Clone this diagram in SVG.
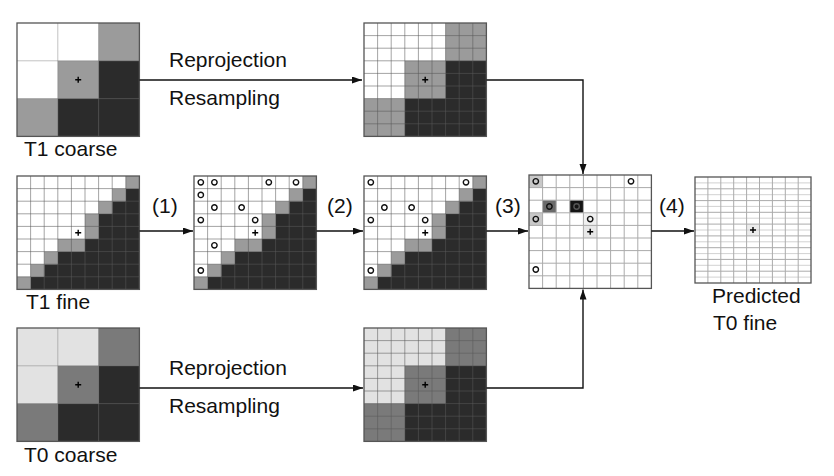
<svg xmlns="http://www.w3.org/2000/svg" xmlns:xlink="http://www.w3.org/1999/xlink" width="834" height="476" viewBox="0 0 834 476">
<style>
text{font-family:"Liberation Sans",Arial,sans-serif;font-size:21px;fill:#111}
.gl{fill:none;stroke:#5a5a5a;stroke-opacity:.55;stroke-width:1}
.gl3{fill:none;stroke:#ababab;stroke-width:1}
.gl4{fill:none;stroke:#d2d2d2;stroke-width:1}
.cl{fill:none;stroke:#777;stroke-opacity:.45;stroke-width:1}
.bd{fill:none;stroke:#555;stroke-width:1.3}
</style>
<defs>
<marker id="ah" markerWidth="11" markerHeight="8" refX="10" refY="3.5" orient="auto" markerUnits="userSpaceOnUse"><path d="M0 0L10 3.5L0 7Z" fill="#111"/></marker>
<path id="fg" d="M13.6 0V113.4M27.2 0V113.4M40.8 0V113.4M54.4 0V113.4M68 0V113.4M81.6 0V113.4M95.2 0V113.4M108.8 0V113.4M0 12.6H122.4M0 25.2H122.4M0 37.8H122.4M0 50.4H122.4M0 63H122.4M0 75.6H122.4M0 88.2H122.4M0 100.8H122.4"/>
<path id="cg" d="M40.8 0V113.4M81.6 0V113.4M0 37.8H122.4M0 75.6H122.4"/>
<path id="plus" d="M-3 0H3M0-3V3" fill="none" stroke="#000" stroke-width="1.4"/>
<circle id="ring" r="2.7" fill="none" stroke="#111" stroke-width="1.4"/>
<g id="t1c">
<rect width="122.4" height="113.4" fill="#fff"/>
<rect x="81.6" width="40.8" height="37.8" fill="#9b9b9b"/>
<rect x="40.8" y="37.8" width="40.8" height="37.8" fill="#9b9b9b"/>
<rect y="75.6" width="40.8" height="37.8" fill="#9b9b9b"/>
<path d="M81.6 37.8H122.4V113.4H40.8V75.6H81.6Z" fill="#2b2b2b"/>
</g>
<g id="t0c">
<rect width="122.4" height="113.4" fill="#e2e2e2"/>
<rect x="81.6" width="40.8" height="37.8" fill="#7a7a7a"/>
<rect x="40.8" y="37.8" width="40.8" height="37.8" fill="#7a7a7a"/>
<rect y="75.6" width="40.8" height="37.8" fill="#7a7a7a"/>
<path d="M81.6 37.8H122.4V113.4H40.8V75.6H81.6Z" fill="#2b2b2b"/>
</g>
<g id="fine">
<rect width="122.4" height="113.4" fill="#fff"/>
<polygon fill="#2b2b2b" points="108.8,12.6 122.4,12.6 122.4,113.4 13.6,113.4 13.6,100.8 27.2,100.8 27.2,88.2 40.8,88.2 40.8,75.6 68,75.6 68,63 81.6,63 81.6,37.8 95.2,37.8 95.2,25.2 108.8,25.2"/>
<g fill="#9b9b9b">
<rect x="108.8" y="0" width="13.6" height="12.6"/>
<rect x="95.2" y="12.6" width="13.6" height="12.6"/>
<rect x="81.6" y="25.2" width="13.6" height="12.6"/>
<rect x="68" y="37.8" width="13.6" height="25.2"/>
<rect x="40.8" y="63" width="27.2" height="12.6"/>
<rect x="27.2" y="75.6" width="13.6" height="12.6"/>
<rect x="13.6" y="88.2" width="13.6" height="12.6"/>
<rect x="0" y="100.8" width="13.6" height="12.6"/>
</g>
</g>
</defs>
<rect width="834" height="476" fill="#fff"/>

<g id="t1-coarse" transform="translate(17,23)">
<use href="#t1c"/>
<use href="#cg" class="cl"/>
<rect width="122.4" height="113.4" class="bd"/>
<use href="#plus" x="61.2" y="56.7"/>
<text x="7" y="133">T1 coarse</text>
</g>

<g id="t1-resampled" transform="translate(364,23)">
<use href="#t1c"/>
<use href="#fg" class="gl"/>
<rect width="122.4" height="113.4" class="bd"/>
<use href="#plus" x="61.2" y="56.7"/>
</g>

<g id="t1-fine" transform="translate(17,176)">
<use href="#fine"/>
<use href="#fg" class="gl"/>
<rect width="122.4" height="113.4" class="bd"/>
<use href="#plus" x="61.2" y="56.7"/>
<text x="9" y="133">T1 fine</text>
</g>

<g id="step1" transform="translate(194,176)">
<use href="#fine"/>
<use href="#fg" class="gl"/>
<rect width="122.4" height="113.4" class="bd"/>
<use href="#plus" x="61.2" y="56.7"/>
<use href="#ring" x="6.8" y="6.3"/>
<use href="#ring" x="20.4" y="6.3"/>
<use href="#ring" x="74.8" y="6.3"/>
<use href="#ring" x="102" y="6.3"/>
<use href="#ring" x="6.8" y="18.9"/>
<use href="#ring" x="20.4" y="31.5"/>
<use href="#ring" x="47.6" y="31.5"/>
<use href="#ring" x="6.8" y="44.1"/>
<use href="#ring" x="61.2" y="44.1"/>
<use href="#ring" x="20.4" y="69.3"/>
<use href="#ring" x="6.8" y="94.5"/>
</g>

<g id="step2" transform="translate(364,176)">
<use href="#fine"/>
<use href="#fg" class="gl"/>
<rect width="122.4" height="113.4" class="bd"/>
<use href="#plus" x="61.2" y="56.7"/>
<use href="#ring" x="6.8" y="6.3"/>
<use href="#ring" x="102" y="6.3"/>
<use href="#ring" x="20.4" y="31.5"/>
<use href="#ring" x="47.6" y="31.5"/>
<use href="#ring" x="6.8" y="44.1"/>
<use href="#ring" x="61.2" y="44.1"/>
<use href="#ring" x="6.8" y="94.5"/>
</g>

<g id="step3" transform="translate(529,175)">
<rect width="122.4" height="113.4" fill="#fff"/>
<rect x="0" y="0" width="13.6" height="12.6" fill="#c8c8c8"/>
<rect x="0" y="37.8" width="13.6" height="12.6" fill="#c8c8c8"/>
<rect x="13.6" y="25.2" width="13.6" height="12.6" fill="#6a6a6a"/>
<rect x="40.8" y="25.2" width="13.6" height="12.6" fill="#141414"/>
<rect x="54.4" y="37.8" width="13.6" height="12.6" fill="#f0f0f0"/>
<rect x="54.4" y="50.4" width="13.6" height="12.6" fill="#e8e8e8"/>
<use href="#fg" class="gl3"/>
<rect width="122.4" height="113.4" class="bd"/>
<use href="#plus" x="61.2" y="56.7"/>
<use href="#ring" x="6.8" y="6.3"/>
<use href="#ring" x="102" y="6.3"/>
<use href="#ring" x="20.4" y="31.5"/>
<circle cx="47.6" cy="31.5" r="2.7" fill="none" stroke="#555" stroke-width="1.4"/>
<use href="#ring" x="6.8" y="44.1"/>
<use href="#ring" x="61.2" y="44.1"/>
<use href="#ring" x="6.8" y="94.5"/>
</g>

<g id="predicted" transform="translate(695,177)">
<rect width="116" height="106" fill="#fff"/>
<rect x="51.6" y="47.1" width="12.9" height="11.8" fill="#ececec"/>
<path class="gl4" d="M0 5.9H116M0 17.7H116M0 29.4H116M0 41.2H116M0 53H116M0 64.8H116M0 76.6H116M0 88.3H116M0 100.1H116"/>
<path class="gl3" d="M12.9 0V106M25.8 0V106M38.7 0V106M51.6 0V106M64.5 0V106M77.4 0V106M90.3 0V106M103.2 0V106M0 11.8H116M0 23.6H116M0 35.3H116M0 47.1H116M0 58.9H116M0 70.7H116M0 82.4H116M0 94.2H116"/>
<rect width="116" height="106" class="bd"/>
<use href="#plus" x="58" y="53"/>
<text x="17" y="126">Predicted</text>
<text x="18" y="153">T0 fine</text>
</g>

<g id="t0-coarse" transform="translate(17,328)">
<use href="#t0c"/>
<use href="#cg" class="cl"/>
<rect width="122.4" height="113.4" class="bd"/>
<use href="#plus" x="61.2" y="56.7"/>
<text x="7" y="134">T0 coarse</text>
</g>

<g id="t0-resampled" transform="translate(364,328)">
<use href="#t0c"/>
<use href="#fg" class="gl"/>
<rect width="122.4" height="113.4" class="bd"/>
<use href="#plus" x="61.2" y="56.7"/>
</g>

<g id="connectors" fill="none" stroke="#111" stroke-width="1.4">
<path d="M139.4 80H362" marker-end="url(#ah)"/>
<path d="M486.4 80H583V174" marker-end="url(#ah)"/>
<path d="M139.4 231H193" marker-end="url(#ah)"/>
<path d="M316.4 231H363" marker-end="url(#ah)"/>
<path d="M486.4 231H528" marker-end="url(#ah)"/>
<path d="M651.4 231H694" marker-end="url(#ah)"/>
<path d="M139.4 388H363" marker-end="url(#ah)"/>
<path d="M486.4 388H583V289.5" marker-end="url(#ah)"/>
</g>

<g id="labels">
<text x="169" y="67">Reprojection</text>
<text x="169" y="105">Resampling</text>
<text x="169" y="375">Reprojection</text>
<text x="169" y="413">Resampling</text>
<text x="152" y="213">(1)</text>
<text x="327" y="213">(2)</text>
<text x="495" y="213">(3)</text>
<text x="659" y="213">(4)</text>
</g>
</svg>
